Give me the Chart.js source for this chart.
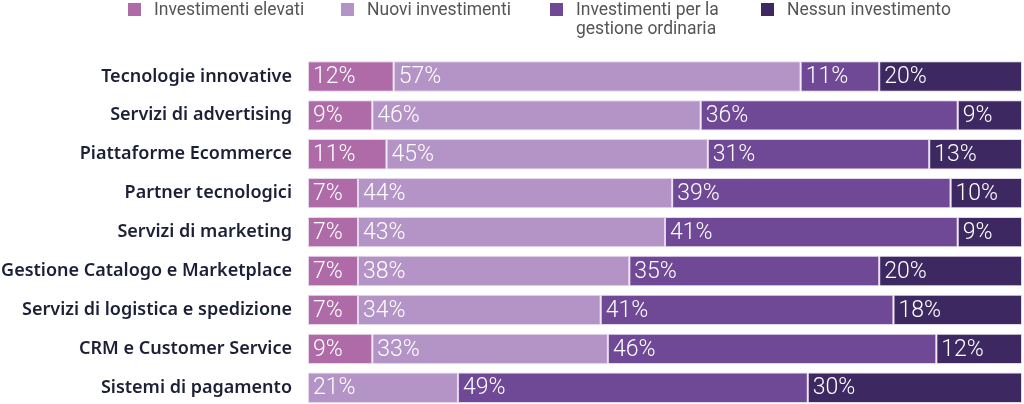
<!DOCTYPE html>
<html>
<head>
<meta charset="utf-8">
<script src="https://cdn.jsdelivr.net/npm/chart.js@4/dist/chart.umd.min.js"></script>
<style>
  html, body { margin: 0; padding: 0; background: #fff; overflow: hidden; }
  #wrap { position: relative; width: 1024px; height: 404px; overflow: hidden; }
  #legend { position: absolute; top: 0; left: 0; width: 1024px; height: 50px;
    font-family: "Roboto", "Liberation Sans", sans-serif; font-size: 17.5px; color: #555; }
  .item { position: absolute; top: 0; line-height: 19px; }
  .sw { position: absolute; left: 0; top: 3px; width: 13px; height: 13px; }
  .txt { position: absolute; left: 26px; top: 0; white-space: nowrap; }
</style>
</head>
<body>
<div id="wrap">
  <!-- canvas a bit taller than the window: chart.js keeps ~27px free under the bars -->
  <canvas id="barChart" width="1024" height="434"></canvas>
  <div id="legend"></div>
</div>
<script>
// data
var categories = ['Tecnologie innovative', 'Servizi di advertising', 'Piattaforme Ecommerce',
	'Partner tecnologici', 'Servizi di marketing', 'Gestione Catalogo e Marketplace',
	'Servizi di logistica e spedizione', 'CRM e Customer Service', 'Sistemi di pagamento'];
var seriesNames = [['Investimenti elevati'], ['Nuovi investimenti'],
	['Investimenti per la', 'gestione ordinaria'], ['Nessun investimento']];
var elevati   = [12, 9, 11, 7, 7, 7, 7, 9, 0];
var nuovi     = [57, 46, 45, 44, 43, 38, 34, 33, 21];
var ordinaria = [11, 36, 31, 39, 41, 35, 41, 46, 49];
var nessuno   = [20, 9, 13, 10, 9, 20, 18, 12, 30];
var colors = ['#ae6ba8', '#b493c6', '#6f4896', '#3d2862'];
var legendX = [128, 341, 550, 761];

// legend (html, because one label wraps on two lines)
var legend = document.getElementById('legend');
seriesNames.forEach(function(name, i){
	var item = document.createElement('div');
	item.className = 'item';
	item.style.left = legendX[i] + 'px';
	item.innerHTML = '<span class="sw" style="background:' + colors[i] + '"></span>' +
		'<span class="txt">' + name.join('<br>') + '</span>';
	legend.appendChild(item);
});

// percent labels at the start of each segment
var segmentLabels = {
	id: 'segmentLabels',
	afterDatasetsDraw: function(chart){
		var ctx = chart.ctx;
		ctx.save();
		ctx.fillStyle = '#ffffff';
		ctx.font = '300 23px "Roboto", "Liberation Sans", sans-serif';
		ctx.textAlign = 'left';
		ctx.textBaseline = 'middle';
		chart.data.datasets.forEach(function(ds, di){
			chart.getDatasetMeta(di).data.forEach(function(bar, i){
				var v = ds.data[i];
				if (!v) return;
				ctx.fillText(v + '%', Math.min(bar.base, bar.x) + 5, bar.y + 1);
			});
		});
		ctx.restore();
	}
};

var allSeries = [elevati, nuovi, ordinaria, nessuno];
var datasets = allSeries.map(function(vals, i){
	return {
		label: seriesNames[i].join(' '),
		data: vals,
		backgroundColor: colors[i],
		borderColor: 'rgba(220,205,230,0.8)',
		borderWidth: 1,
		borderSkipped: false,
		categoryPercentage: 1,
		barPercentage: 0.78
	};
});

var ctx = document.getElementById('barChart').getContext('2d');
var chart = new Chart(ctx, {
	type: 'bar',
	data: { labels: categories, datasets: datasets },
	plugins: [segmentLabels],
	options: {
		indexAxis: 'y',
		responsive: false,
		animation: false,
		layout: { autoPadding: false, padding: { top: 57, right: 2, bottom: 0, left: 0 } },
		plugins: {
			legend: { display: false },
			tooltip: { enabled: false }
		},
		scales: {
			x: { stacked: true, min: 0, max: 100, display: false },
			y: {
				stacked: true,
				grid: { display: false, drawTicks: false },
				border: { display: false },
				ticks: {
					color: '#1b2036',
					padding: 16,
					font: { family: '"Noto Sans", "Liberation Sans", sans-serif', size: 18, weight: 600 }
				},
				afterFit: function(scale){ scale.width = 308; }
			}
		}
	}
});
</script>
</body>
</html>
